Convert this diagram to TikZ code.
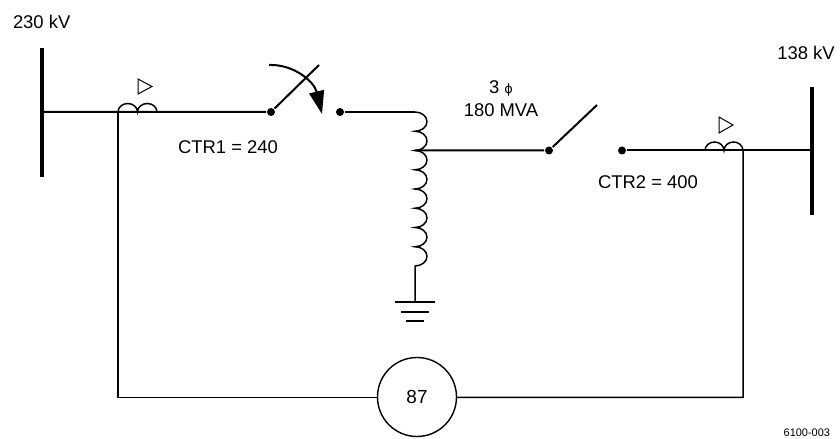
\documentclass[tikz,border=0pt]{standalone}
\usepackage{fontspec}
\setmainfont{Liberation Sans}
\newfontfamily\phfont{DejaVu Sans}
\usetikzlibrary{arrows.meta}
\begin{document}
\begin{tikzpicture}[>=stealth, x=1bp, y=1bp, line width=2bp,
    lbl/.style={font=\fontsize{18.5}{23}\selectfont, inner sep=0pt},
    bus/.style={line width=4.5bp},
    lead/.style={line width=1.5bp},
    contact/.style={circle, fill, inner sep=0pt, minimum size=8bp},
    relay/.style={circle, draw, line width=1.4bp, minimum size=79bp, inner sep=0pt, font=\fontsize{19}{19}\selectfont}]
\useasboundingbox (0,0) rectangle (840,439);
% buses
\draw[bus] (42,391) -- (42,262);
\draw[bus] (812,352) -- (812,224);
\node[lbl, anchor=west] (kv1) at (12,417) {230 kV};
\node[lbl] (kv2) at (806,386) {138 kV};
% 230 kV side
\coordinate (ct1) at (118,327);
\node[contact] (s1a) at (271,327) {};
\node[contact] (s1b) at (340,327) {};
\coordinate (s1e) at (319,374);
\coordinate (top) at (415,327);
\draw (42,327) -- (s1a) -- (s1e);
\draw (s1b) -- (top);
\draw[lead] (ct1) arc[start angle=180, end angle=0, x radius=9.75, y radius=8.5]
  arc[start angle=180, end angle=0, x radius=9.75, y radius=8.5];
\draw[line width=1bp] (138,360) -- (138,345) -- (152,352.5) -- cycle;
\draw[-{Triangle[length=23bp, width=15bp]}] (269,374) .. controls (293,375) and (314,358) .. (322,325);
\node[lbl] (ctr1) at (228,292) {CTR1 = 240};
% autotransformer
\draw[line width=1.5bp] (top) foreach \i in {1,...,8} {
  arc[start angle=90, end angle=-90, x radius=12, y radius=9.625] } -- (415,137) coordinate (gnd);
\draw[line width=1.8bp] ([xshift=-20]gnd) -- ([xshift=20]gnd);
\draw[line width=1.8bp] ([xshift=-14,yshift=-10]gnd) -- ([xshift=14,yshift=-10]gnd);
\draw[line width=1.8bp] ([xshift=-9,yshift=-19]gnd) -- ([xshift=9,yshift=-19]gnd);
\node[lbl, align=center] (xfmr) at (501,340.5) {3 {\phfont\fontsize{13}{13}\selectfont ϕ}\\180 MVA};
% 138 kV side
\coordinate (tap) at (415,288.5);
\node[contact] (s2a) at (549,288.5) {};
\node[contact] (s2b) at (622,288.5) {};
\coordinate (s2e) at (597,334);
\coordinate (ct2) at (705,288.5);
\draw (tap) -- (s2a) -- (s2e);
\draw (s2b) -- (812,288.5);
\draw[lead] (ct2) arc[start angle=180, end angle=0, x radius=9.5, y radius=8.5]
  arc[start angle=180, end angle=0, x radius=9.5, y radius=8.5] coordinate (ct2e);
\draw[line width=1bp] (719,322) -- (719,306) -- (733,314) -- cycle;
\node[lbl] (ctr2) at (648,257) {CTR2 = 400};
% differential relay
\node[relay] (rly) at (417,42) {87};
\coordinate (c1) at (118,41.5);
\coordinate (c2) at (743,41.5);
\draw[lead] (ct1) -- (c1) -- (rly.west |- c1);
\draw[lead] (ct2e) -- (c2) -- (rly.east |- c2);
\node[font=\fontsize{11}{11}\selectfont, anchor=east, inner sep=0pt] (fig) at (831,6) {6100-003};
\end{tikzpicture}
\end{document}
